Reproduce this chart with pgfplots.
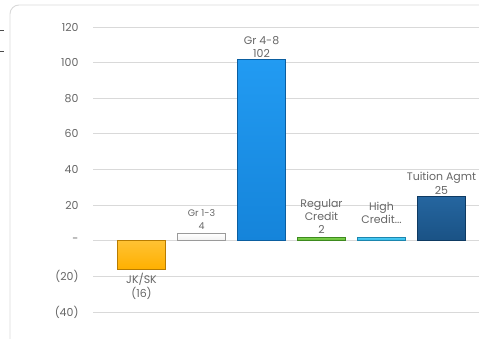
\documentclass[border=0pt]{standalone}
\usepackage{pgfplots}
\pgfplotsset{compat=1.18}
\usepackage{fontspec}
\setmainfont{Poppins}
\definecolor{txt}{HTML}{666666}
\definecolor{grd}{HTML}{D9D9D9}
\definecolor{cOr}{HTML}{FFB000}\definecolor{cOrL}{HTML}{FFC233}\definecolor{cOrD}{HTML}{B87C00}
\definecolor{cWh}{HTML}{F0F0F0}\definecolor{cWhL}{HTML}{FFFFFF}\definecolor{cWhD}{HTML}{9A9A9A}
\definecolor{cBl}{HTML}{1584DA}\definecolor{cBlL}{HTML}{229BF2}\definecolor{cBlD}{HTML}{0B5EA0}
\definecolor{cGr}{HTML}{62B834}\definecolor{cGrL}{HTML}{7ED24E}\definecolor{cGrD}{HTML}{3D8A1E}
\definecolor{cLb}{HTML}{2BB6E6}\definecolor{cLbL}{HTML}{4FCDF5}\definecolor{cLbD}{HTML}{1B86AE}
\definecolor{cDb}{HTML}{1A5285}\definecolor{cDbL}{HTML}{2566A0}\definecolor{cDbD}{HTML}{0E3A62}
\tikzset{lbl/.style={font=\fontsize{11}{13.5}\selectfont, text=txt, align=center, inner sep=1bp}}
\begin{document}
\begin{tikzpicture}[x=1bp,y=1bp]
\draw[grd, line width=0.9bp, rounded corners=9bp] (10,333) rectangle (495,-15);
\draw[black!70, line width=0.8bp] (0,308) -- (4,308);
\draw[black!70, line width=0.8bp] (0,287) -- (4,287);
\begin{axis}[
  at={(93bp,26bp)}, anchor=south west,
  scale only axis, width=386bp, height=285bp,
  xmin=-0.808, xmax=5.625, ymin=-40, ymax=120,
  axis line style={draw=none},
  ytick={-40,-20,0,20,40,60,80,100,120},
  yticklabels={(40),(20),-,20,40,60,80,100,120},
  xtick=\empty,
  major tick length=0pt,
  ymajorgrids, grid style={grd, line width=0.8bp},
  yticklabel style={font=\fontsize{11}{12}\selectfont, text=txt, anchor=east, xshift=-11bp},
  ybar, bar width=48bp, bar shift=0pt,
  clip=false,
]
\addplot[top color=cOrL, bottom color=cOr, draw=cOrD, line width=0.8bp] coordinates {(0,-16)};
\addplot[top color=cWhL, bottom color=cWh, draw=cWhD, line width=0.8bp] coordinates {(1,4)};
\addplot[top color=cBlL, bottom color=cBl, draw=cBlD, line width=0.8bp] coordinates {(2,102)};
\addplot[top color=cGrL, bottom color=cGr, draw=cGrD, line width=0.8bp] coordinates {(3,2)};
\addplot[top color=cLbL, bottom color=cLb, draw=cLbD, line width=0.8bp] coordinates {(4,2)};
\addplot[top color=cDbL, bottom color=cDb, draw=cDbD, line width=0.8bp] coordinates {(5,25)};
\node[lbl, anchor=north] at (axis cs:0,-16) [yshift=-3bp] {JK/SK\\(16)};
\node[lbl, anchor=south, font=\fontsize{9.5}{12.5}\selectfont] at (axis cs:1,4) [yshift=3bp] {Gr 1-3\\4};
\node[lbl, anchor=south] at (axis cs:2,102) [yshift=0bp] {Gr 4-8\\102};
\node[lbl, anchor=south] at (axis cs:3,2) [yshift=2bp] {Regular\\Credit\\2};
\node[lbl, anchor=south] at (axis cs:4,2) [yshift=12bp] {High\\Credit...};
\node[lbl, anchor=south] at (axis cs:5,25) [yshift=1bp] {Tuition Agmt\\25};
\end{axis}
\pgfresetboundingbox
\useasboundingbox (0,0) rectangle (479,338);
\end{tikzpicture}
\end{document}
